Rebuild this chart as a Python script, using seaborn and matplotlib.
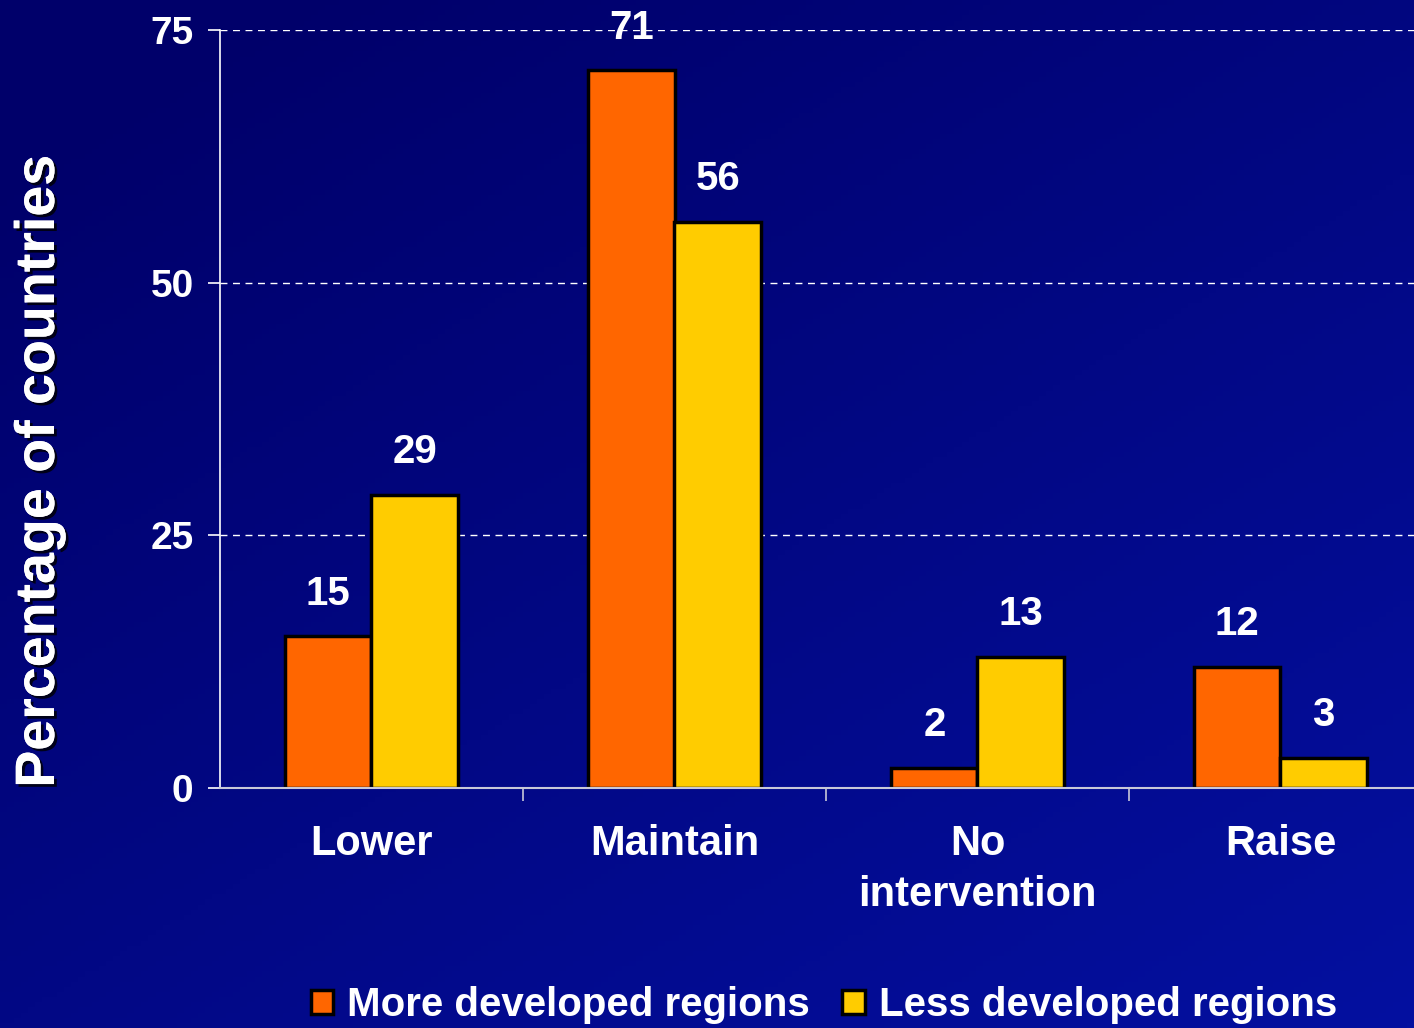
import numpy as np
import pandas as pd
import matplotlib
matplotlib.use("Agg")
import matplotlib.pyplot as plt
import matplotlib.patheffects as pe
from matplotlib.patches import Patch
import seaborn as sns

# data
categories = ["Lower", "Maintain", "No\nintervention", "Raise"]
more_developed = [15, 71, 2, 12]
less_developed = [29, 56, 13, 3]
series_names = ["More developed regions", "Less developed regions"]
colors = ["#FF6600", "#FFCC00"]

df = pd.DataFrame({
    "category": categories * 2,
    "value": more_developed + less_developed,
    "region": [series_names[0]] * 4 + [series_names[1]] * 4,
})

sns.set_theme(style="white")
plt.rcParams["font.family"] = ["Liberation Sans", "DejaVu Sans"]
plt.rcParams["font.weight"] = "bold"

fig = plt.figure(figsize=(14.14, 10.28), dpi=100)
fig.patch.set_facecolor("#000070")

# background gradient, dark navy top-left to brighter blue bottom-right
bg = fig.add_axes([0, 0, 1, 1], zorder=-10)
gx, gy = np.meshgrid(np.linspace(0, 1, 200), np.linspace(0, 1, 200))
grad = np.clip(0.5 * gx + 0.6 * gy - 0.1, 0, 1)
c0 = np.array([0x00, 0x00, 0x6a]) / 255
c1 = np.array([0x04, 0x10, 0xa0]) / 255
img = c0[None, None, :] * (1 - grad[..., None]) + c1[None, None, :] * grad[..., None]
bg.imshow(img, aspect="auto", extent=[0, 1, 0, 1], origin="upper")
bg.axis("off")

ax = fig.add_axes([220 / 1414, 1 - 788 / 1028, (1432 - 220) / 1414, (788 - 30) / 1028])
ax.set_facecolor("none")

sns.barplot(data=df, x="category", y="value", hue="region", order=categories,
            hue_order=series_names, palette=colors, width=0.57,
            edgecolor="black", linewidth=2.5, saturation=1, ax=ax,
            legend=False)

for cont in ax.containers:
    ax.bar_label(cont, fmt="%d", padding=17, color="white", fontsize=29,
                 fontweight="bold")

ax.set_xlim(-0.5, 3.5)
ax.set_ylim(0, 75)
ax.set_yticks([0, 25, 50, 75])
ax.set_xticks([0, 1, 2, 3])
ax.set_xticklabels(categories, color="white", fontsize=30, fontweight="bold",
                   linespacing=1.35)
ax.tick_params(axis="y", colors="white", labelsize=28, length=9, width=1.2,
               direction="out", left=True, pad=10)
ax.tick_params(axis="x", length=0, pad=26)
for lab in ax.get_yticklabels():
    lab.set_fontweight("bold")

# minor ticks at category boundaries on the x axis
ax.set_xticks([0.5, 1.5, 2.5], minor=True)
ax.tick_params(axis="x", which="minor", length=9, width=1.2, color="#c8c8d8",
               direction="out", bottom=True)

for y in [25, 50, 75]:
    ax.axhline(y, color="white", linestyle=(0, (5, 4)), linewidth=1.0, zorder=0)

for s in ["top", "right"]:
    ax.spines[s].set_visible(False)
ax.spines["left"].set_color("white")
ax.spines["left"].set_linewidth(1.2)
ax.spines["bottom"].set_color("#c8c8d8")
ax.spines["bottom"].set_linewidth(1.5)

ax.set_xlabel("")
ax.set_ylabel("Percentage of countries", color="white", fontsize=40,
              fontweight="bold",
              path_effects=[pe.withSimplePatchShadow(offset=(2, -2),
                                                     shadow_rgbFace="black",
                                                     alpha=0.8), pe.Normal()])
ax.yaxis.set_label_coords(-154 / 1212, (788 - 472) / 758)

handles = [Patch(facecolor=c, edgecolor="black", linewidth=2.5) for c in colors]
fig.legend(handles, series_names, loc="center", bbox_to_anchor=(824 / 1414, 1 - 1005 / 1028),
           ncol=2, frameon=False, handlelength=0.55, handleheight=0.55,
           handletextpad=0.35, columnspacing=0.8, labelcolor="white",
           prop={"weight": "bold", "size": 29})

fig.savefig("out.png", dpi=100, facecolor=fig.get_facecolor())
